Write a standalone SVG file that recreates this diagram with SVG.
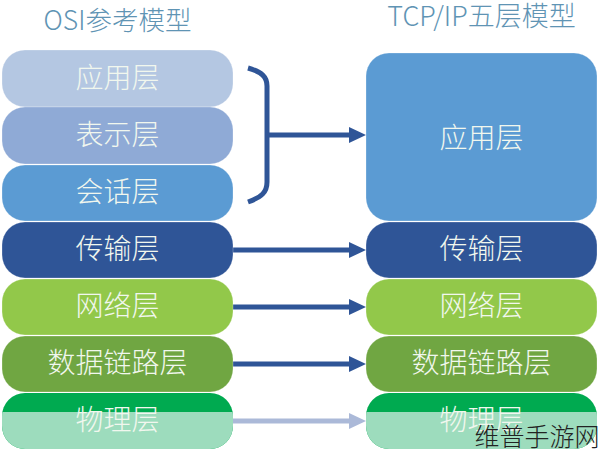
<svg xmlns="http://www.w3.org/2000/svg" width="600" height="452" viewBox="0 0 600 452">
<defs>
<style>
text{font-family:"Noto Sans CJK SC","Liberation Sans",sans-serif;text-anchor:middle}
.l{font-size:28px;fill:#f1f7ee;font-weight:300}
.h{font-size:26.5px;fill:#5f94b4;font-weight:300}
.c{fill:none;stroke:#2f5597;stroke-width:5}
.p{fill:#2f5597}
.t{stroke:#ffffff;stroke-opacity:.25;stroke-width:1}
</style>
<clipPath id="lc"><rect x="0" y="412" width="300" height="40"/></clipPath>
<clipPath id="rc"><rect x="300" y="412" width="300" height="40"/></clipPath>
</defs>
<rect width="600" height="452" fill="#ffffff"/>
<text class="h" x="117.500" y="30">OSI参考模型</text>
<text class="h" x="481.500" y="26" style="font-size:27px">TCP/IP五层模型</text>
<g id="connectors">
<path class="c" d="M248 68 C262 72 267 77 267 86 V182 C267 192 262 197 248 202"/>
<path class="c" d="M267 135 H352"/><polygon class="p" points="349,127 366,135 349,143"/>
<path class="c" d="M233 250 H352"/><polygon class="p" points="349,242 366,250 349,258"/>
<path class="c" d="M232 307 H352"/><polygon class="p" points="349,299 366,307 349,315"/>
<path class="c" d="M232 364 H352"/><polygon class="p" points="349,356 366,364 349,372"/>
<path d="M233 421 H352" fill="none" stroke="#abb9d8" stroke-width="5"/><polygon fill="#abb9d8" points="349,413 366,421 349,429"/>
</g>
<g id="osi-app"><rect class="t" x="2" y="50" width="231" height="57" rx="23" fill="#b4c7e2"/><text class="l" x="117.500" y="88">应用层</text></g>
<g id="osi-pres"><rect class="t" x="2" y="107" width="231" height="57" rx="23" fill="#8faad6"/><text class="l" x="117.500" y="145">表示层</text></g>
<g id="osi-sess"><rect class="t" x="2" y="165" width="231" height="56" rx="23" fill="#5b9bd3"/><text class="l" x="117.500" y="202">会话层</text></g>
<g id="osi-trans"><rect class="t" x="2" y="222" width="231" height="56" rx="23" fill="#2f5597"/><text class="l" x="117.500" y="259">传输层</text></g>
<g id="osi-net"><rect class="t" x="2" y="279" width="231" height="56" rx="23" fill="#92c84a"/><text class="l" x="117.500" y="316">网络层</text></g>
<g id="osi-link"><rect class="t" x="2" y="336" width="231" height="56" rx="23" fill="#70a642"/><text class="l" x="117.500" y="373">数据链路层</text></g>
<g id="osi-phys"><rect x="2" y="393" width="231" height="56" rx="23" fill="#00aa50"/><rect x="2" y="393" width="231" height="56" rx="23" fill="#9ddcbd" clip-path="url(#lc)"/><text class="l" x="117.500" y="430">物理层</text></g>
<g id="tcp-app"><rect class="t" x="366" y="53" width="231" height="168" rx="23" fill="#5b9bd3"/><text class="l" x="481.500" y="148">应用层</text></g>
<g id="tcp-trans"><rect class="t" x="366" y="222" width="231" height="56" rx="23" fill="#2f5597"/><text class="l" x="481.500" y="259">传输层</text></g>
<g id="tcp-net"><rect class="t" x="366" y="279" width="231" height="56" rx="23" fill="#92c84a"/><text class="l" x="481.500" y="316">网络层</text></g>
<g id="tcp-link"><rect class="t" x="366" y="336" width="231" height="56" rx="23" fill="#70a642"/><text class="l" x="481.500" y="373">数据链路层</text></g>
<g id="tcp-phys"><rect x="366" y="393" width="231" height="56" rx="23" fill="#00aa50"/><rect x="366" y="393" width="231" height="56" rx="23" fill="#9ddcbd" clip-path="url(#rc)"/><text class="l" x="481.500" y="430">物理层</text></g>
<text x="537" y="446" font-size="25" fill="#222222" font-weight="300">维普手游网</text>
</svg>
